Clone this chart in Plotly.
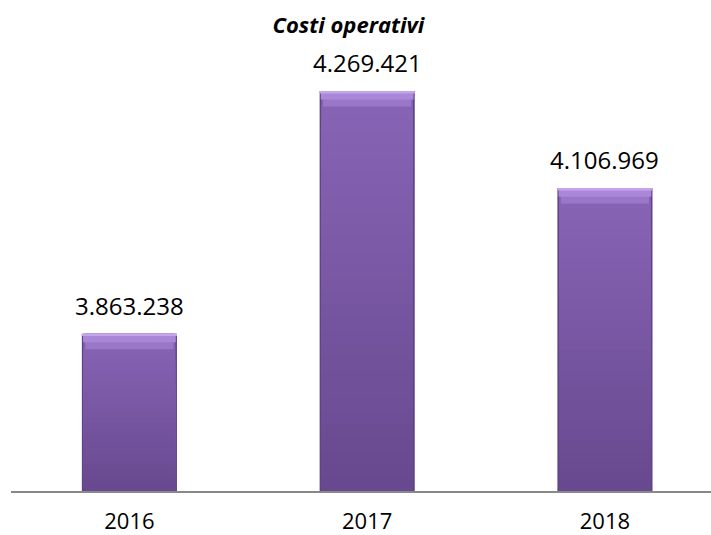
import plotly.graph_objects as go

years = ["2016", "2017", "2018"]
values = [3863238, 4269421, 4106969]
title_text = "Costi operativi"

axis_min = 3600000
axis_max = 4400000

def fmt(v):
    return f"{v:,}".replace(",", ".")

def lerp(c1, c2, t):
    a = [int(c1[i:i + 2], 16) for i in (1, 3, 5)]
    b = [int(c2[i:i + 2], 16) for i in (1, 3, 5)]
    return "#" + "".join(f"{round(x + (y - x) * t):02X}" for x, y in zip(a, b))

fig = go.Figure()

# base bar (dark edges)
fig.add_trace(go.Bar(
    x=years, y=values, width=0.4,
    marker=dict(color="#5F4387", line=dict(width=0)),
    hoverinfo="skip", showlegend=False,
))

# vertical gradient body, slightly narrower to leave dark side edges
n = 30
top_c, bot_c = "#8864B6", "#68498F"
for k in range(n):
    frac_hi = 1 - k / n
    hi = [axis_min + (v - axis_min) * frac_hi for v in values]
    fig.add_trace(go.Bar(
        x=years, y=[h - axis_min for h in hi], base=[axis_min] * 3, width=0.385,
        marker=dict(color=lerp(top_c, bot_c, k / (n - 1)), line=dict(width=0)),
        hoverinfo="skip", showlegend=False,
    ))

# top bevel bands
band_mid = 26000
band_top = 4000
fig.add_trace(go.Bar(
    x=years, y=[band_mid] * 3, base=[v - band_mid for v in values], width=0.37,
    marker=dict(color="#9A78C8", line=dict(width=0)),
    hoverinfo="skip", showlegend=False,
))
fig.add_trace(go.Bar(
    x=years, y=[band_mid * 0.55] * 3, base=[v - band_mid * 0.55 for v in values], width=0.39,
    marker=dict(color="#AA88D8", line=dict(width=0)),
    hoverinfo="skip", showlegend=False,
))
fig.add_trace(go.Bar(
    x=years, y=[band_top] * 3, base=[v - band_top for v in values], width=0.4,
    marker=dict(color="#C4A4EC", line=dict(width=0)),
    hoverinfo="skip", showlegend=False,
))

for i, v in enumerate(values):
    fig.add_annotation(
        x=i, y=v, xref="x", yref="y", text=fmt(v), showarrow=False,
        yanchor="bottom", yshift=10,
        font=dict(family="Open Sans", size=24, color="#000000"),
    )

fig.update_layout(
    width=711, height=535,
    margin=dict(l=11, r=0, t=13, b=44),
    paper_bgcolor="white", plot_bgcolor="white",
    barmode="overlay",
    title=dict(
        text="<b><i>" + title_text + "</i></b>",
        x=0.49, xanchor="center", y=0.953, yanchor="middle",
        font=dict(family="Open Sans", size=22, color="#000000"),
    ),
    xaxis=dict(
        type="category", range=[-0.498, 2.446], automargin=False,
        showline=True, linecolor="#898989", linewidth=2,
        showgrid=False, zeroline=False,
        ticks="outside", ticklen=10, tickcolor="rgba(0,0,0,0)",
        tickfont=dict(family="Open Sans", size=22, color="#000000"),
    ),
    yaxis=dict(
        range=[axis_min, axis_max], visible=False, showgrid=False, zeroline=False,
    ),
)

fig.write_html("out.html")
